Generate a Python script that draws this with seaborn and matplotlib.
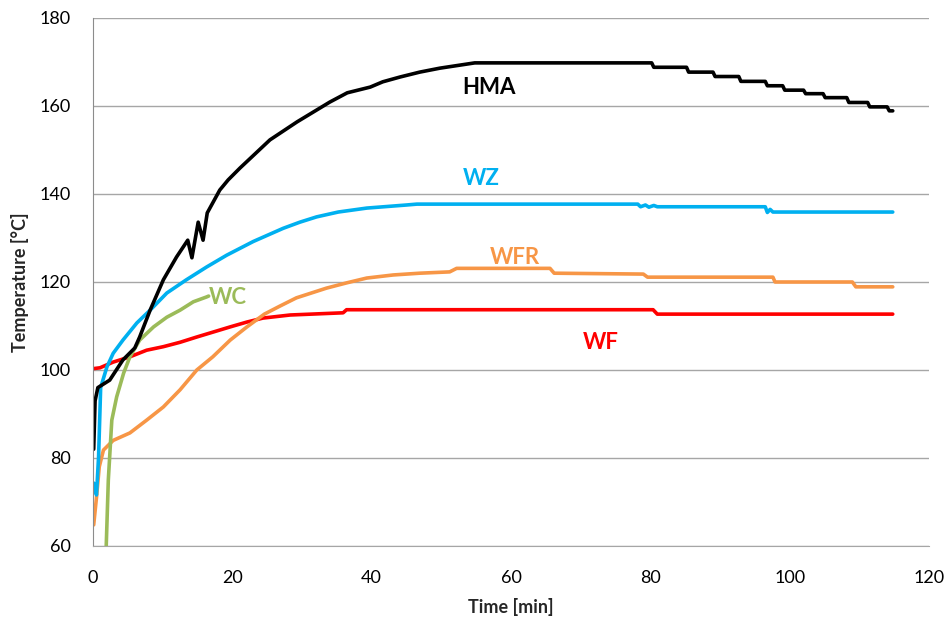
import pandas as pd
import matplotlib
matplotlib.use("Agg")
import matplotlib.pyplot as plt
import seaborn as sns

# Readings taken from the curves (time in min, temperature in degC)
hma_t = [0.1, 0.3, 0.7, 2.4, 4.3, 6.0, 6.7, 8.2, 10.1, 12.0, 13.6, 14.2, 15.1, 15.8, 16.4,
         18.2, 19.4, 21.1, 25.4, 29.3, 34.0, 36.5, 39.8, 41.6, 44.1, 46.9, 49.8, 54.8,
         80.2, 80.5, 85.2, 85.5, 89.0, 89.3, 92.7, 93.0, 96.5, 96.8, 99.0, 99.3, 102.0, 102.3,
         104.8, 105.1, 108.2, 108.5, 111.2, 111.5, 114.0, 114.3, 114.8]
hma_T = [82.0, 93.0, 96.0, 97.7, 102.3, 105.0, 107.5, 113.6, 120.5, 125.7, 129.5, 125.5, 133.6, 129.5, 135.7,
         140.9, 143.2, 145.9, 152.3, 156.4, 160.9, 163.0, 164.3, 165.5, 166.6, 167.7, 168.6, 169.8,
         169.8, 168.8, 168.8, 167.7, 167.7, 166.7, 166.7, 165.6, 165.6, 164.6, 164.6, 163.6, 163.6, 162.8,
         162.8, 161.9, 161.9, 160.8, 160.8, 159.8, 159.8, 158.9, 158.9]

wz_t = [0.1, 0.5, 0.8, 1.1, 2.0, 2.9, 4.3, 6.3, 8.2, 10.6, 13.4, 16.3, 19.2, 23.0, 27.3, 29.7,
        32.1, 35.2, 39.3, 45.0, 46.5, 78.2, 78.6, 79.3, 79.8, 80.5, 81.0, 96.5, 96.8, 97.2, 97.6, 114.8]
wz_T = [74.3, 71.6, 80.2, 96.0, 100.7, 103.8, 106.8, 110.7, 113.6, 117.5, 120.5, 123.4, 126.1, 129.2, 132.2, 133.6,
        134.8, 135.9, 136.8, 137.5, 137.7, 137.7, 137.1, 137.5, 137.0, 137.4, 137.1, 137.1, 135.8, 136.5, 135.9, 135.9]

wfr_t = [0.1, 0.5, 0.9, 1.5, 2.9, 5.3, 7.7, 10.1, 12.5, 14.9, 17.2, 19.7, 22.1, 24.6, 26.8, 29.2,
         33.5, 36.4, 39.3, 43.1, 46.9, 51.2, 52.2, 65.6, 66.2, 79.0, 79.6, 97.6, 97.9, 109.0, 109.5, 114.8]
wfr_T = [64.8, 71.0, 78.0, 81.8, 84.0, 85.7, 88.6, 91.6, 95.5, 100.0, 103.0, 106.8, 109.8, 112.7, 114.5, 116.4,
         118.6, 119.8, 120.9, 121.6, 122.0, 122.3, 123.1, 123.1, 122.0, 121.8, 121.1, 121.1, 120.0, 120.0, 118.9, 118.9]

wf_t = [0.0, 1.0, 2.9, 5.3, 7.7, 10.1, 12.5, 14.9, 17.2, 19.7, 22.1, 24.4, 28.3, 35.9, 36.4, 80.4, 81.0, 114.8]
wf_T = [100.3, 100.5, 101.8, 103.0, 104.5, 105.3, 106.3, 107.5, 108.6, 109.8, 110.9, 111.8, 112.5, 113.0, 113.7,
        113.7, 112.7, 112.7]

wc_t = [1.8, 2.2, 2.7, 3.4, 4.4, 5.3, 6.7, 8.7, 10.6, 12.5, 14.4, 16.3, 16.6]
wc_T = [55.0, 75.0, 88.6, 93.9, 99.3, 103.0, 106.8, 109.8, 112.0, 113.6, 115.5, 116.6, 116.8]

series_names = ["WF", "WFR", "WC", "WZ", "HMA"]
series_colors = ["#FF0000", "#F79646", "#9BBB59", "#00B0F0", "#000000"]
label_pos = {"HMA": (56.9, 164.2), "WZ": (55.8, 143.6), "WFR": (60.6, 125.6),
             "WC": (19.4, 116.4), "WF": (72.9, 106.3)}

data = {"WF": (wf_t, wf_T), "WFR": (wfr_t, wfr_T), "WC": (wc_t, wc_T),
        "WZ": (wz_t, wz_T), "HMA": (hma_t, hma_T)}

sns.set_style("white")
plt.rcParams["font.family"] = ["Lato", "DejaVu Sans"]

fig = plt.figure(figsize=(9.46, 6.25), dpi=100)
ax = fig.add_axes([0.0983, 0.1264, 0.8837, 0.8448])

for name, color in zip(series_names, series_colors):
    t, T = data[name]
    df = pd.DataFrame({"Time": t, "Temp": T})
    sns.lineplot(data=df, x="Time", y="Temp", color=color, lw=2.6, sort=False,
                 estimator=None, ax=ax)
    lx, ly = label_pos[name]
    ax.text(lx, ly, name, color=color, fontsize=16, fontweight="bold",
            ha="center", va="center")

ax.set_xlim(0, 120)
ax.set_ylim(60, 180)
ax.set_xticks(range(0, 121, 20))
ax.set_yticks(range(60, 181, 20))
ax.yaxis.grid(True, color="#A6A6A6", lw=1)
ax.xaxis.grid(False)
ax.set_axisbelow(True)

for side in ["top", "right"]:
    ax.spines[side].set_visible(False)
ax.spines["left"].set_color("#8C8C8C")
ax.spines["bottom"].set_color("#A6A6A6")
ax.tick_params(axis="both", direction="out", length=6, width=1, color="#8C8C8C",
               labelsize=13, labelcolor="black")
ax.tick_params(axis="y", pad=10)
ax.tick_params(axis="x", pad=11)

ax.set_xlabel("Time [min]", fontsize=13, fontweight="bold")
ax.set_ylabel("Temperature [°C]", fontsize=13, fontweight="bold")
ax.xaxis.set_label_coords(0.5, -0.098)
ax.yaxis.set_label_coords(-0.077, 0.5)

fig.savefig("out.png", dpi=100)
